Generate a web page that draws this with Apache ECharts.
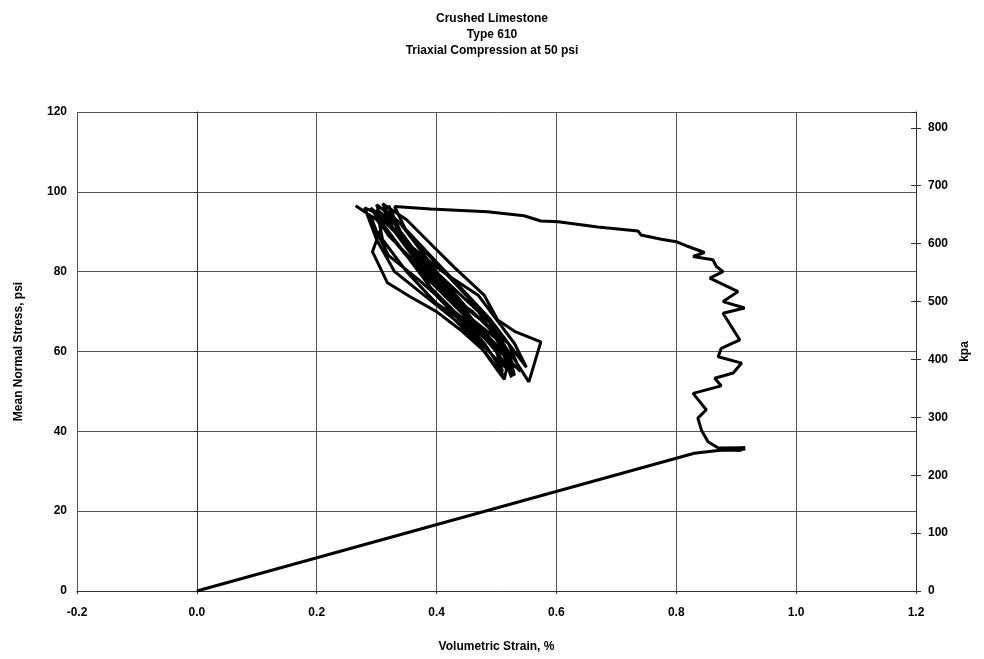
<!DOCTYPE html>
<html>
<head>
<meta charset="utf-8">
<script src="https://cdn.jsdelivr.net/npm/echarts@6/dist/echarts.min.js"></script>
<style>
  html, body { margin: 0; padding: 0; background: #fff; }
  #chart { width: 984px; height: 659px; }
</style>
</head>
<body>
<div id="chart"></div>
<script>
// volumetric strain (%), in test order
const strain = [
  0.000, 0.830, 0.870, 0.915, 0.905, 0.870, 0.915, 0.870,
  0.853, 0.842, 0.836, 0.850, 0.828, 0.875, 0.864, 0.895, 0.909, 0.870, 0.875, 0.906,
  0.878, 0.914, 0.878, 0.903, 0.856, 0.878, 0.867, 0.861, 0.828, 0.847, 0.820, 0.800,
  0.775, 0.741, 0.736, 0.669, 0.603, 0.574, 0.546, 0.485, 0.390, 0.330,
  // cycles
  0.350, 0.400, 0.450, 0.490, 0.520, 0.530,
  0.500, 0.450, 0.400, 0.350, 0.300, 0.265,
  0.290, 0.300, 0.320, 0.370, 0.430, 0.480, 0.510,
  0.500, 0.470, 0.420, 0.380, 0.330, 0.290,
  0.320, 0.360, 0.410, 0.470, 0.500, 0.530, 0.550,
  0.530, 0.490, 0.440, 0.390, 0.340, 0.300,
  0.310, 0.293, 0.318, 0.356, 0.400, 0.440, 0.480, 0.510,
  0.505, 0.460, 0.410, 0.370, 0.330, 0.310,
  0.350, 0.390, 0.430, 0.479, 0.502, 0.532, 0.574, 0.554, 0.530,
  0.490, 0.440, 0.400, 0.350, 0.310, 0.280,
  0.300, 0.330, 0.380, 0.430, 0.470, 0.503, 0.513,
  0.520, 0.480, 0.430, 0.390, 0.360, 0.340, 0.320,
  0.340, 0.380, 0.420, 0.460, 0.500, 0.530,
  0.510, 0.460, 0.420, 0.370, 0.330, 0.300,
  0.310, 0.350, 0.400, 0.460, 0.520, 0.540,
  0.520, 0.490, 0.450, 0.410, 0.370, 0.340, 0.310,
  0.330, 0.370, 0.420, 0.470, 0.500, 0.520, 0.525,
  0.500, 0.440, 0.400, 0.360, 0.320, 0.290,
  0.320, 0.360, 0.410, 0.460, 0.510, 0.525
]
// mean normal stress (psi)
const stress = [
  0.0, 34.5, 35.2, 35.6, 35.2, 35.6, 35.9, 35.8,
  37.4, 40.3, 43.3, 45.4, 49.5, 51.4, 53.3, 54.6, 57.1, 58.7, 60.8, 62.9,
  69.6, 70.9, 72.5, 75.0, 78.4, 80.0, 81.3, 83.0, 83.8, 84.8, 86.3, 87.5,
  88.1, 89.2, 90.2, 91.2, 92.5, 92.7, 94.0, 95.0, 95.7, 96.3,
  90.0, 82.0, 74.0, 67.0, 60.0, 54.0,
  58.0, 66.0, 74.0, 84.0, 93.0, 96.5,
  94.0, 90.0, 84.0, 78.0, 70.0, 62.0, 55.0,
  60.0, 66.0, 74.0, 82.0, 90.0, 96.0,
  92.0, 86.0, 80.0, 74.0, 68.0, 62.0, 56.0,
  60.0, 68.0, 76.0, 84.0, 92.0, 96.8,
  92.0, 85.0, 77.2, 73.7, 70.0, 65.4, 60.0, 54.0,
  59.0, 67.0, 76.0, 84.0, 92.0, 97.0,
  93.0, 87.0, 81.0, 74.2, 67.9, 64.9, 62.4, 52.4, 58.0,
  66.0, 72.0, 78.0, 86.0, 94.0, 96.0,
  88.0, 80.0, 74.0, 68.0, 62.0, 55.0, 53.0,
  58.0, 64.0, 70.0, 76.0, 84.0, 90.0, 96.6,
  88.0, 80.0, 74.0, 70.0, 64.0, 56.0,
  62.0, 68.0, 76.0, 84.0, 92.0, 95.5,
  88.0, 80.0, 72.0, 66.0, 58.0, 55.0,
  62.0, 66.0, 71.0, 78.0, 86.0, 92.0, 96.2,
  90.0, 84.0, 77.0, 70.0, 63.0, 58.0, 54.5,
  60.0, 70.0, 76.0, 82.0, 90.0, 96.0,
  89.0, 83.0, 76.0, 68.0, 60.0, 53.5
]
const xTicks = [-0.2, 0.0, 0.2, 0.4, 0.6, 0.8, 1.0, 1.2]
const psiToKpa = 6.894757

const font = 'Liberation Sans, Arial, sans-serif'
const pts = strain.map((x, i) => [x, stress[i]])

let chart = echarts.init(document.getElementById('chart'))
chart.setOption({
  animation: false,
  backgroundColor: '#fff',
  textStyle: { fontFamily: font },
  title: {
    text: 'Crushed Limestone\nType 610\nTriaxial Compression at 50 psi',
    left: 'center',
    top: 6,
    textStyle: { fontSize: 12, fontWeight: 'bold', color: '#000', lineHeight: 16, fontFamily: font }
  },
  grid: { left: 77, right: 68, top: 112, bottom: 68 },
  xAxis: {
    type: 'value',
    min: xTicks[0],
    max: xTicks[xTicks.length - 1],
    interval: 0.2,
    name: 'Volumetric Strain, %',
    nameLocation: 'middle',
    nameGap: 50,
    nameTextStyle: { fontSize: 12, fontWeight: 'bold', color: '#000' },
    axisLine: { lineStyle: { color: '#333', width: 1 } },
    axisTick: { show: true, length: 3, lineStyle: { color: '#333' } },
    axisLabel: { fontSize: 12, fontWeight: 'bold', color: '#000', margin: 16, formatter: v => v.toFixed(1) },
    splitLine: { lineStyle: { color: '#555', width: 1 } }
  },
  yAxis: [
    {
      type: 'value',
      min: 0,
      max: 120,
      interval: 20,
      name: 'Mean Normal Stress, psi',
      nameLocation: 'middle',
      nameGap: 52,
      nameTextStyle: { fontSize: 12, fontWeight: 'bold', color: '#000' },
      axisLine: { show: true, lineStyle: { color: '#333', width: 1 } },
      axisTick: { show: true, length: 3, lineStyle: { color: '#333' } },
      axisLabel: { fontSize: 12, fontWeight: 'bold', color: '#000', margin: 10 },
      splitLine: { lineStyle: { color: '#555', width: 1 } }
    },
    {
      type: 'value',
      position: 'right',
      min: 0,
      max: 120 * psiToKpa,
      interval: 100,
      name: 'kpa',
      nameLocation: 'middle',
      nameGap: 42,
      nameTextStyle: { fontSize: 12, fontWeight: 'bold', color: '#000' },
      axisLine: { show: true, lineStyle: { color: '#333', width: 1 } },
      axisTick: { show: true, length: 5, lineStyle: { color: '#333' } },
      axisLabel: { fontSize: 12, fontWeight: 'bold', color: '#000', margin: 12, showMaxLabel: false },
      splitLine: { show: false }
    },
    {
      // inner half of the crossing ticks on the kpa axis
      type: 'value',
      position: 'right',
      min: 0,
      max: 120 * psiToKpa,
      interval: 100,
      axisLine: { show: false },
      axisTick: { show: true, inside: true, length: 5, lineStyle: { color: '#333' } },
      axisLabel: { show: false },
      splitLine: { show: false }
    }
  ],
  series: [
    {
      type: 'line',
      data: pts,
      showSymbol: false,
      lineStyle: { color: '#000', width: 3 },
      clip: true
    }
  ]
})
</script>
</body>
</html>
